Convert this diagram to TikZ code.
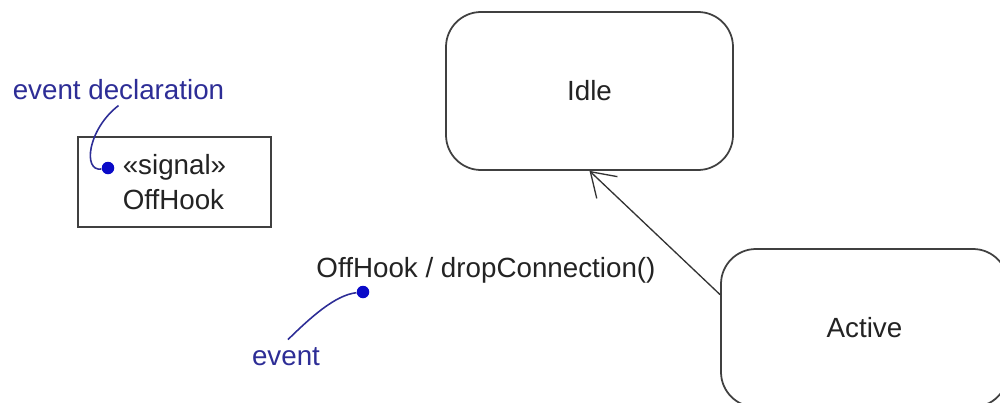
\documentclass[tikz,border=0pt]{standalone}
\usepackage{fontspec}
\setmainfont{Liberation Sans}
\usepackage{xcolor}
\usepackage{tikz}
\usetikzlibrary{arrows.meta, positioning, calc}

\definecolor{noteblue}{RGB}{45,45,150}
\definecolor{dotblue}{RGB}{10,10,200}
\definecolor{inkgray}{RGB}{35,35,35}

\begin{document}
\begin{tikzpicture}[
            state/.style={rectangle, rounded corners=0.7cm, draw=black!75, line width=1pt,
                minimum width=5.74cm, minimum height=3.16cm, text=inkgray, font=\fontsize{15.8}{19}\selectfont},
            signalbox/.style={rectangle, draw=black!75, line width=0.7pt, align=left,
                minimum width=3.86cm, minimum height=1.8cm, text=inkgray, font=\fontsize{15.8}{20}\selectfont},
            note/.style={text=noteblue, inner sep=0pt, font=\fontsize{15.8}{19}\selectfont},
            trans label/.style={text=inkgray, inner sep=0pt, font=\fontsize{15.8}{19}\selectfont},
            dot/.style={circle, fill=dotblue, inner sep=0pt, minimum size=0.25cm},
            callout/.style={draw=noteblue, line width=0.9pt},
            >={Straight Barb[length=4.6mm, width=6mm]}
        ]
        \useasboundingbox (0,0) rectangle (20,8.04);
        \clip (0,0) rectangle (20,8.04);

        % States
        \node[state] (Idle) at (11.79,6.22) {Idle};
        \node[state] (Active) at (17.29,1.48) {Active};

        % Transition
        \draw[black!80, line width=0.75pt, ->] (Active.167) -- (Idle.south);
        \node[trans label] (trans) at (9.72,2.64) {OffHook / dropConnection()};

        % Signal declaration
        \node[signalbox] (signal) at (3.49,4.40) {«signal»\\OffHook};

        % Notes
        \node[note] (decl) at (2.37,6.24) {event declaration};
        \node[dot] (decldot) at (2.16,4.68) {};
        \draw[callout] ($(decl.south)+(0,-0.1)$) .. controls (1.75,5.45) and (1.65,4.6) .. (decldot);

        \node[note] (event) at (5.72,0.90) {event};
        \node[dot] (eventdot) at (7.26,2.20) {};
        \draw[callout] ($(event.north)+(0.04,0.16)$) .. controls (6.2,1.68) and (6.7,2.14) .. (eventdot);
\end{tikzpicture}
\end{document}
